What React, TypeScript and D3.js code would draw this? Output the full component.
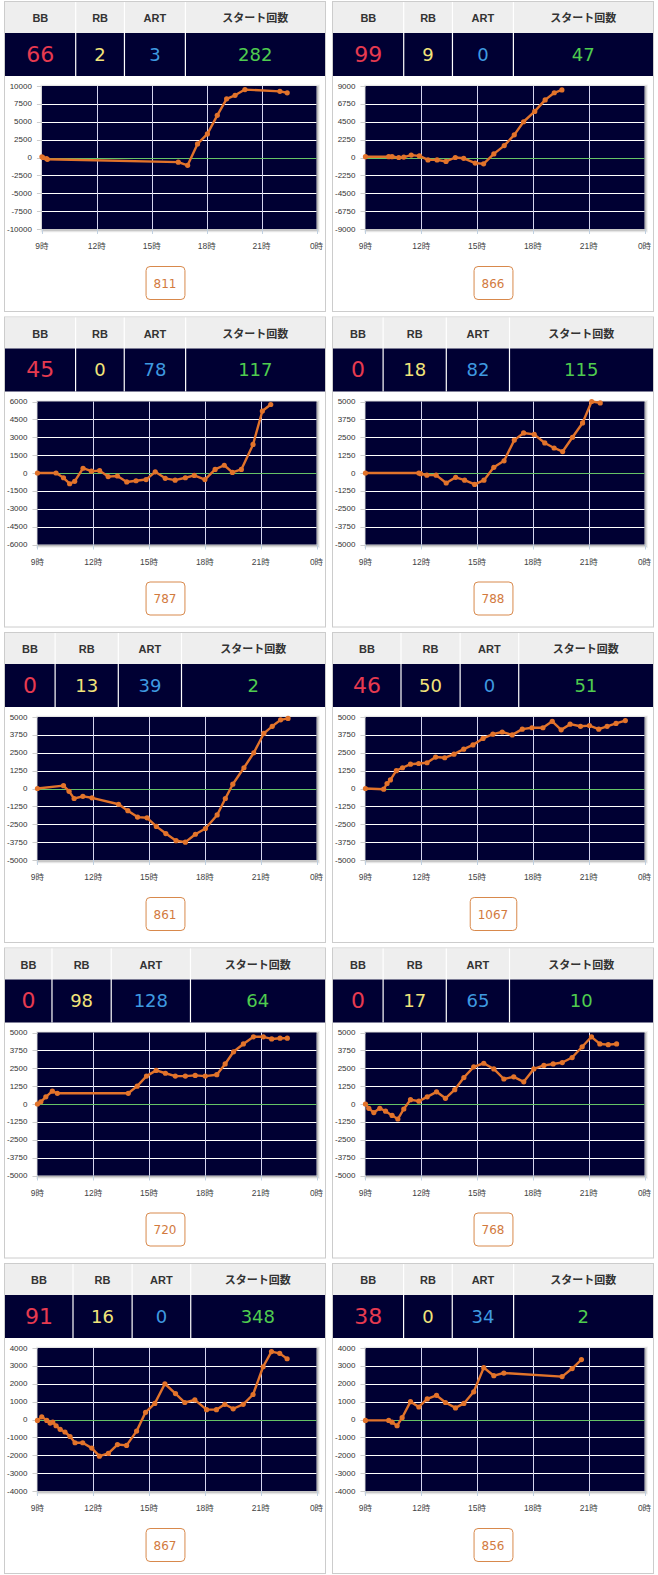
import React from 'react';
import * as d3 from 'd3';

const machineNumbers = [811, 866, 787, 788, 861, 1067, 720, 768, 867, 856];
const bbCounts = [66, 99, 45, 0, 0, 46, 0, 0, 91, 38];
const rbCounts = [2, 9, 0, 18, 13, 50, 98, 17, 16, 0];
const artCounts = [3, 0, 78, 82, 39, 0, 128, 65, 0, 34];
const startCounts = [282, 47, 117, 115, 2, 51, 64, 10, 348, 2];
const headerLabels = ['BB', 'RB', 'ART', 'スタート回数'];
const yLimits = [10000, 9000, 6000, 5000, 5000, 5000, 5000, 5000, 4000, 4000];
const hourTicks = [9, 12, 15, 18, 21, 24];

const hours1 = [9.0, 9.05, 9.25, 9.3, 16.45, 16.96, 17.5, 18.04, 18.58, 19.09, 19.55, 20.09, 22.0, 22.4];
const diff1 = [100, 0, -150, -250, -650, -1100, 1900, 3300, 5900, 8200, 8700, 9500, 9250, 9050];

const hours2 = [9.0, 10.25, 10.43, 10.79, 11.06, 11.46, 11.9, 12.36, 12.85, 13.33, 13.83, 14.28, 14.9, 15.35, 15.9, 16.46, 17.0, 17.5, 18.1, 18.66, 19.15, 19.56];
const diff2 = [100, 100, 100, 0, 50, 300, 200, -300, -300, -500, 0, -100, -700, -800, 450, 1500, 2850, 4500, 5800, 7250, 8150, 8500];

const hours3 = [9.0, 10.0, 10.4, 10.73, 11.0, 11.45, 11.9, 12.34, 12.8, 13.3, 13.8, 14.3, 14.84, 15.33, 15.87, 16.4, 16.95, 17.43, 18.0, 18.55, 19.04, 19.48, 19.96, 20.59, 21.09, 21.54];
const diff3 = [0, 0, -400, -900, -700, 400, 150, 200, -300, -250, -750, -650, -550, 100, -450, -600, -400, -200, -550, 300, 650, 50, 300, 2400, 5200, 5750];

const hours4 = [9.0, 11.87, 11.96, 12.3, 12.8, 13.34, 13.85, 14.33, 14.87, 15.37, 15.9, 16.45, 17.0, 17.5, 18.07, 18.64, 19.14, 19.6, 20.13, 20.67, 21.16, 21.62];
const diff4 = [0, 0, -50, -150, -150, -700, -300, -500, -800, -500, 400, 850, 2300, 2800, 2700, 2100, 1750, 1500, 2500, 3500, 5000, 4900];

const hours5 = [9.0, 10.4, 10.7, 10.97, 11.44, 11.93, 13.36, 13.86, 14.38, 14.89, 15.39, 15.9, 16.45, 16.95, 17.49, 18.03, 18.66, 19.1, 19.5, 20.1, 20.63, 21.17, 21.62, 22.07, 22.47];
const diff5 = [0, 200, -200, -700, -550, -650, -1100, -1550, -2000, -2050, -2650, -3150, -3650, -3750, -3200, -2800, -1850, -700, 300, 1450, 2500, 3850, 4350, 4800, 4900];

const hours6 = [9.0, 9.98, 10.16, 10.34, 10.66, 10.99, 11.42, 11.86, 12.31, 12.77, 13.26, 13.76, 14.28, 14.78, 15.32, 15.85, 16.35, 16.89, 17.43, 17.95, 18.54, 19.04, 19.52, 20.0, 20.56, 21.04, 21.54, 21.99, 22.47, 22.97];
const diff6 = [0, -50, 350, 600, 1250, 1450, 1700, 1750, 1800, 2200, 2150, 2400, 2750, 3050, 3500, 3800, 3950, 3750, 4150, 4250, 4250, 4700, 4100, 4500, 4350, 4400, 4150, 4350, 4550, 4750];

const hours7 = [9.0, 9.18, 9.45, 9.8, 10.07, 13.88, 14.36, 14.86, 15.38, 15.88, 16.41, 16.95, 17.48, 18.02, 18.64, 19.09, 19.54, 20.07, 20.61, 21.14, 21.59, 22.04, 22.43];
const diff7 = [0, 150, 500, 900, 750, 750, 1250, 1950, 2350, 2150, 1950, 1950, 2000, 1950, 2050, 2800, 3650, 4200, 4700, 4700, 4550, 4600, 4600];

const hours8 = [9.0, 9.18, 9.45, 9.77, 10.08, 10.43, 10.74, 11.06, 11.42, 11.87, 12.32, 12.82, 13.3, 13.8, 14.29, 14.82, 15.36, 15.9, 16.44, 16.97, 17.51, 18.05, 18.59, 19.09, 19.58, 20.11, 20.65, 21.15, 21.6, 22.05, 22.5];
const diff8 = [0, -300, -600, -300, -500, -800, -1050, -350, 300, 200, 500, 850, 400, 1000, 1850, 2600, 2850, 2450, 1750, 1900, 1550, 2450, 2700, 2800, 2900, 3250, 4000, 4700, 4200, 4150, 4200];

const hours9 = [9.0, 9.23, 9.5, 9.68, 9.82, 10.0, 10.22, 10.48, 10.75, 11.02, 11.43, 11.92, 12.33, 12.81, 13.3, 13.79, 14.33, 14.81, 15.31, 15.85, 16.42, 16.92, 17.46, 18.09, 18.62, 19.07, 19.52, 20.06, 20.59, 21.13, 21.58, 22.02, 22.42];
const diff9 = [-50, 150, -50, -200, -150, -350, -550, -700, -950, -1300, -1300, -1600, -2050, -1900, -1400, -1450, -650, 400, 900, 2000, 1450, 950, 1100, 550, 550, 850, 600, 850, 1400, 2950, 3800, 3700, 3400];

const hours10 = [9.0, 10.25, 10.43, 10.7, 10.97, 11.42, 11.87, 12.32, 12.82, 13.3, 13.84, 14.29, 14.82, 15.36, 15.9, 16.44, 19.57, 20.11, 20.61];
const diff10 = [-50, -50, -150, -350, 100, 1000, 700, 1150, 1350, 950, 650, 900, 1550, 2900, 2450, 2600, 2400, 2850, 3350];

const seriesHours = [hours1, hours2, hours3, hours4, hours5, hours6, hours7, hours8, hours9, hours10];
const seriesDiffs = [diff1, diff2, diff3, diff4, diff5, diff6, diff7, diff8, diff9, diff10];

const valueColors = ['#e63a50', '#f2e47a', '#3f9ae0', '#4fcc4f'];
const NAVY = '#000033';
const ORANGE = '#e2732b';

const headerFont = 'bold 11px "Liberation Sans", "Noto Sans CJK JP"';
const valueFonts = ['22px "DejaVu Sans"', '18px "DejaVu Sans"', '18px "DejaVu Sans"', '18px "DejaVu Sans"'];
const buttonFont = '12px "DejaVu Sans"';

let measureCtx: CanvasRenderingContext2D | null = null;
function textWidth(text: string, font: string): number {
  if (!measureCtx) measureCtx = document.createElement('canvas').getContext('2d');
  if (!measureCtx) return text.length * 6;
  measureCtx.font = font;
  return measureCtx.measureText(text).width;
}

// Arial-metric width of an 8px tick label
function tickLabelWidth(text: string): number {
  let w = 0;
  for (const ch of text) w += ch === '-' ? 2.67 : 4.45;
  return w;
}

function fontSize(font: string) {
  const m = font.match(/(\d+)px/);
  return m ? +m[1] : 12;
}
function fontFamily(font: string) {
  return font.replace(/^(bold\s+)?\d+px\s+/, '');
}

function Panel({ i }: { i: number }) {
  const col = i % 2;
  const row = Math.floor(i / 2);
  const left = col === 0 ? 4 : 332;
  const top = 1 + row * 315.5;
  const W = 322;
  const H = 311;

  // table (auto layout emulation)
  const tableX = left + 1;
  const tableW = W - 2;
  const vals = [bbCounts[i], rbCounts[i], artCounts[i], startCounts[i]];
  const contentW = headerLabels.map(
    (h, k) => Math.max(textWidth(h, headerFont), textWidth(String(vals[k]), valueFonts[k])) + 11
  );
  const sum = d3.sum(contentW);
  const widths = contentW.map((w) => (w * tableW) / sum);
  const xs: number[] = [];
  let acc = tableX;
  widths.forEach((w) => {
    xs.push(acc);
    acc += w;
  });
  const headerTop = top + 1;
  const headerBottom = top + 32;
  const dataBottom = top + 75;

  // chart
  const yMax = yLimits[i];
  const yTicks = d3.range(-4, 5).map((k) => (k * yMax) / 4);
  const labelW = d3.max(yTicks, (t) => tickLabelWidth(String(t))) || 20;
  const plotL = left + 3 + labelW + 10;
  const plotR = left + W - 9.5;
  const plotT = top + 85;
  const plotB = plotT + 143;
  const x = d3.scaleLinear().domain([9, 24]).range([plotL, plotR]);
  const y = d3.scaleLinear().domain([-yMax, yMax]).range([plotB, plotT]);
  const hrs = seriesHours[i];
  const dfs = seriesDiffs[i];
  const pts = hrs.map((h, k) => [h, dfs[k]] as [number, number]);
  const line = d3
    .line<[number, number]>()
    .x((d) => x(d[0]))
    .y((d) => y(d[1]));
  const crisp = (v: number) => Math.round(v) + 0.5;

  const btnText = String(machineNumbers[i]);
  const btnW = textWidth(btnText, buttonFont) + 16;
  const btnH = 33;
  const cx = left + W / 2;
  const btnTop = plotB + 37;

  return (
    <g>
      <rect x={left + 0.5} y={top + 0.5} width={W - 1} height={H - 1} fill="#fff" stroke="#cccccc" />
      {/* header */}
      <rect x={tableX} y={headerTop} width={tableW} height={headerBottom - headerTop} fill="#eeeeee" />
      <rect x={tableX} y={headerBottom} width={tableW} height={dataBottom - headerBottom} fill={NAVY} />
      {xs.slice(1).map((xv, k) => (
        <line key={k} x1={xv} x2={xv} y1={headerTop} y2={dataBottom} stroke="#ffffff" strokeWidth={1.2} />
      ))}
      {headerLabels.map((h, k) => (
        <text
          key={h}
          x={xs[k] + widths[k] / 2}
          y={top + 17}
          textAnchor="middle"
          dominantBaseline="central"
          fontFamily={fontFamily(headerFont)}
          fontWeight="bold"
          fontSize={11}
          fill="#333333"
        >
          {h}
        </text>
      ))}
      {vals.map((v, k) => (
        <text
          key={k}
          x={xs[k] + widths[k] / 2}
          y={top + 53}
          textAnchor="middle"
          dominantBaseline="central"
          fontFamily={fontFamily(valueFonts[k])}
          fontSize={fontSize(valueFonts[k])}
          fill={valueColors[k]}
        >
          {v}
        </text>
      ))}

      {/* plot shadow */}
      <rect x={plotL + 1} y={plotT + 1} width={plotR - plotL} height={plotB - plotT} fill="none" stroke="#000" strokeOpacity={0.05} strokeWidth={5} />
      <rect x={plotL + 1} y={plotT + 1} width={plotR - plotL} height={plotB - plotT} fill="none" stroke="#000" strokeOpacity={0.1} strokeWidth={3} />
      <rect x={plotL + 1} y={plotT + 1} width={plotR - plotL} height={plotB - plotT} fill="none" stroke="#000" strokeOpacity={0.15} strokeWidth={1} />
      <rect x={plotL} y={plotT} width={plotR - plotL} height={plotB - plotT} fill={NAVY} />

      {/* grid */}
      {yTicks.map((t) =>
        t === 0 || t === -yMax || t === yMax ? null : (
          <line key={'h' + t} x1={plotL} x2={plotR} y1={crisp(y(t))} y2={crisp(y(t))} stroke="#ffffff" strokeWidth={1} />
        )
      )}
      {hourTicks.slice(1, -1).map((h) => (
        <line key={'v' + h} x1={crisp(x(h))} x2={crisp(x(h))} y1={plotT} y2={plotB} stroke="#d4d4ee" strokeWidth={1} />
      ))}
      <line x1={plotL} x2={plotR} y1={crisp(y(0))} y2={crisp(y(0))} stroke="#66c266" strokeWidth={1} />

      {/* ticks & labels */}
      {hourTicks.map((h) => (
        <g key={'xt' + h}>
          <line x1={crisp(x(h))} x2={crisp(x(h))} y1={plotB} y2={plotB + 5} stroke="#c0d0e0" strokeWidth={1} />
          <text
            x={x(h)}
            y={plotB + 17}
            textAnchor="middle"
            dominantBaseline="central"
            fontFamily='"Liberation Sans", "Noto Sans CJK JP"'
            fontSize={8.5}
            fill="#444444"
          >
            {`${h % 24}時`}
          </text>
        </g>
      ))}
      {yTicks.map((t) => (
        <g key={'yt' + t}>
          <line x1={plotL - 5} x2={plotL} y1={crisp(y(t))} y2={crisp(y(t))} stroke="#cccccc" strokeWidth={1} />
          <text
            x={plotL - 10}
            y={y(t)}
            textAnchor="end"
            dominantBaseline="central"
            fontFamily='"Liberation Sans"'
            fontSize={8}
            fill="#333333"
          >
            {String(t)}
          </text>
        </g>
      ))}

      {/* series */}
      <path d={line(pts) || ''} fill="none" stroke={ORANGE} strokeWidth={2.4} strokeLinejoin="round" strokeLinecap="round" />
      {pts.map((p, k) => (
        <circle key={k} cx={x(p[0])} cy={y(p[1])} r={2.6} fill={ORANGE} />
      ))}

      {/* machine number button */}
      <rect x={cx - btnW / 2 + 0.5} y={btnTop + 0.5} width={btnW} height={btnH} rx={4} ry={4} fill="#ffffff" stroke="#d8894c" strokeWidth={1} />
      <text
        x={cx}
        y={btnTop + btnH / 2 + 1}
        textAnchor="middle"
        dominantBaseline="central"
        fontFamily={fontFamily(buttonFont)}
        fontSize={12}
        fill="#d27a3e"
      >
        {btnText}
      </text>
    </g>
  );
}

export default function App() {
  return (
    <svg
      width={658}
      height={1575}
      viewBox="0 0 658 1575"
      style={{ position: 'absolute', left: 0, top: 0, display: 'block', background: '#ffffff' }}
    >
      <rect x={0} y={0} width={658} height={1575} fill="#ffffff" />
      {machineNumbers.map((_, i) => (
        <Panel key={i} i={i} />
      ))}
    </svg>
  );
}
